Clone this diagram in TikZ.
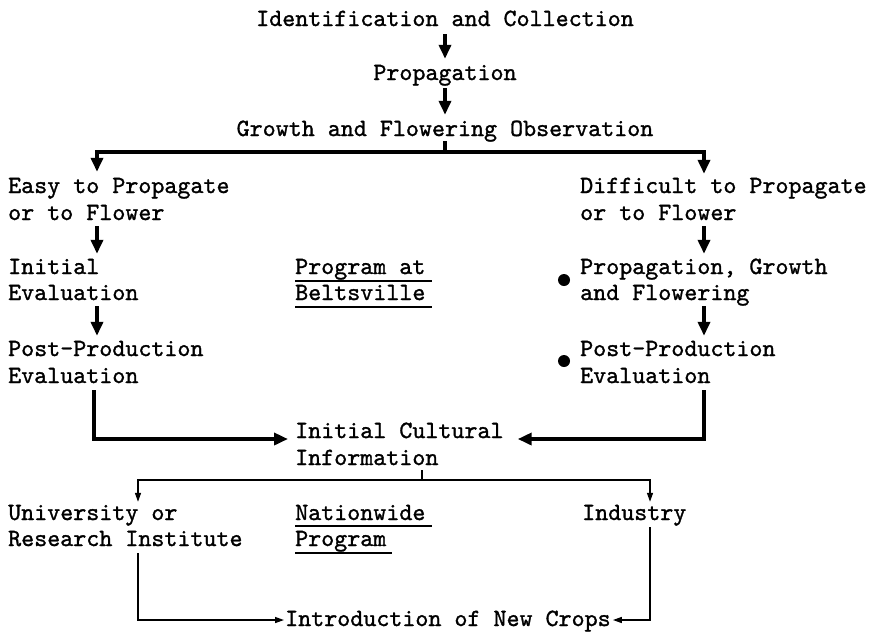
\documentclass[tikz,border=0pt]{standalone}
\usepackage{fontspec}
\setmonofont{lmmono10-regular.otf}[FakeBold=1.2]
\usetikzlibrary{arrows.meta}
\begin{document}
\begin{tikzpicture}[x=1pt,y=-1pt,
  lbl/.style={font=\ttfamily\fontsize{24.8}{27}\selectfont, inner sep=0pt, text height=17pt, text depth=5pt},
  big/.style={line width=3.5pt, -{Triangle[length=14pt,width=12pt]}},
  bigline/.style={line width=3.5pt},
  thinarrow/.style={line width=1.4pt, -{Triangle[length=9pt,width=6pt]}},
  thinline/.style={line width=1.4pt},
  uline/.style={line width=2pt},
  dot/.style={circle, fill=black, inner sep=0pt, minimum size=12pt}]
\useasboundingbox (0,0) rectangle (882,633);
% helper x positions
\coordinate (xL) at (97,0);
\coordinate (xLb) at (94,0);
\coordinate (xR) at (704,0);
\coordinate (xM) at (422,0);
\coordinate (xU) at (138,0);
\coordinate (xI) at (650,0);
\coordinate (split) at (445,152);
\coordinate (split2) at (422,480);
% texts
\node[lbl,anchor=base] (idc) at (445,26) {Identification and Collection};
\node[lbl,anchor=base] (prop) at (445,80) {Propagation};
\node[lbl,anchor=base] (gfo) at (445,136) {Growth and Flowering Observation};
\node[lbl,anchor=base west] (easyA) at (8,193) {Easy to Propagate};
\node[lbl,anchor=base west] (easyB) at (8,220) {or to Flower};
\node[lbl,anchor=base west] (diffA) at (580,193) {Difficult to Propagate};
\node[lbl,anchor=base west] (diffB) at (580,220) {or to Flower};
\node[lbl,anchor=base west] (ieA) at (8,274) {Initial};
\node[lbl,anchor=base west] (ieB) at (8,300) {Evaluation};
\node[lbl,anchor=base west] (pbA) at (295,274) {Program at};
\node[lbl,anchor=base west] (pbB) at (295,300) {Beltsville};
\node[lbl,anchor=base west] (pgfA) at (580,274) {Propagation, Growth};
\node[lbl,anchor=base west] (pgfB) at (580,300) {and Flowering};
\node[dot] (d1) at (564,280) {};
\node[lbl,anchor=base west] (ppLA) at (8,356) {Post-Production};
\node[lbl,anchor=base west] (ppLB) at (8,383) {Evaluation};
\node[lbl,anchor=base west] (ppRA) at (580,356) {Post-Production};
\node[lbl,anchor=base west] (ppRB) at (580,383) {Evaluation};
\node[dot] (d2) at (564,361) {};
\node[lbl,anchor=base west] (icA) at (295,438) {Initial Cultural};
\node[lbl,anchor=base west] (icB) at (295,465) {Information};
\node[lbl,anchor=base west] (uA) at (8,520) {University or};
\node[lbl,anchor=base west] (uB) at (8,546) {Research Institute};
\node[lbl,anchor=base west] (npA) at (295,520) {Nationwide};
\node[lbl,anchor=base west] (npB) at (295,546) {Program};
\node[lbl,anchor=base west] (ind) at (582,520) {Industry};
\node[lbl,anchor=base west] (inc) at (285,626) {Introduction of New Crops};
% underlines
\draw[uline] (pbA.south west) ++(0,2) -- ++(137,0);
\draw[uline] (pbB.south west) ++(0,2) -- ++(137,0);
\draw[uline] (npA.south west) ++(0,1) -- ++(137,0);
\draw[uline] (npB.south west) ++(0,2) -- ++(97,0);
% thick connectors
\draw[big, shorten <=3pt, shorten >=4pt] (idc.south) -- (prop.north);
\draw[big, shorten <=3pt, shorten >=4pt] (prop.south) -- (gfo.north);
\draw[bigline] (gfo.south) -- (split);
\draw[big, shorten >=4pt] (split) -| (easyA.north -| xL);
\draw[big, shorten >=2pt] (split) -| (diffA.north -| xR);
\draw[big, shorten <=1pt, shorten >=3pt] (easyB.south -| xL) -- (ieA.north -| xL);
\draw[big, shorten <=1pt, shorten >=3pt] (ieB.south -| xL) -- (ppLA.north -| xL);
\draw[big, shorten <=1pt, shorten >=3pt] (diffB.south -| xR) -- (pgfA.north -| xR);
\draw[big, shorten <=1pt, shorten >=3pt] (pgfB.south -| xR) -- (ppRA.north -| xR);
\draw[big, shorten <=2pt, shorten >=7pt] (ppLB.south -| xLb) |- ([yshift=-7pt]icA.west);
\draw[big, shorten <=2pt, shorten >=14pt] (ppRB.south -| xR) |- ([yshift=-7pt]icA.east);
% thin connectors
\draw[thinline] (icB.south -| xM) -- (split2);
\draw[thinarrow, shorten >=1pt] (split2) -| (uA.north -| xU);
\draw[thinarrow, shorten >=1pt] (split2) -| (ind.north -| xI);
\draw[thinarrow, shorten <=2pt, shorten >=1pt] (uB.south -| xU) |- (inc.west);
\draw[thinarrow, shorten <=2pt, shorten >=2pt] (ind.south -| xI) |- (inc.east);
\end{tikzpicture}
\end{document}
